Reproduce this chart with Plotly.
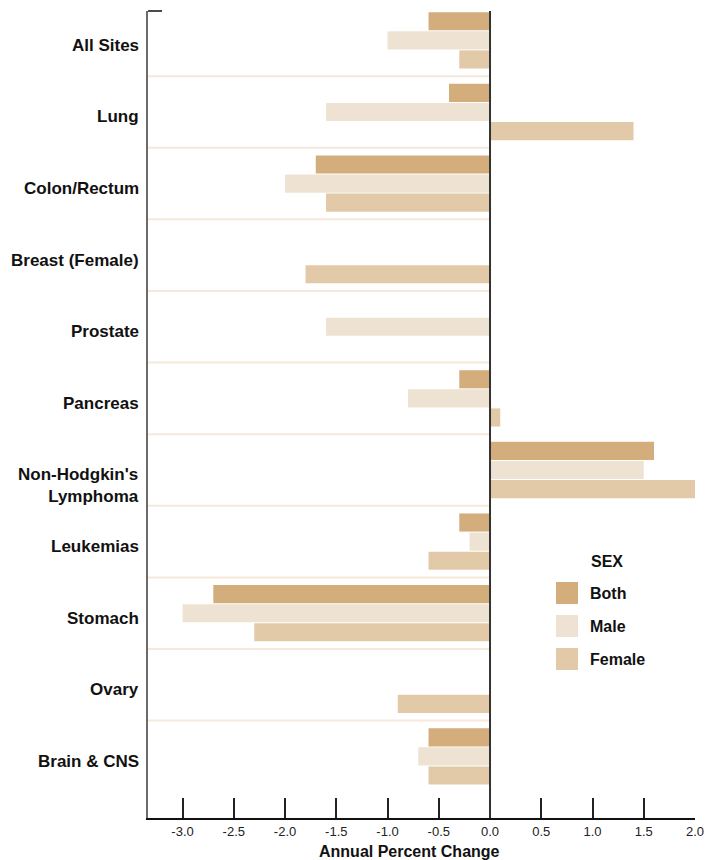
import plotly.graph_objects as go

# ---------------- data ----------------
categories = ["All Sites", "Lung", "Colon/Rectum", "Breast (Female)", "Prostate",
              "Pancreas", "Non-Hodgkin's<br>Lymphoma", "Leukemias", "Stomach",
              "Ovary", "Brain & CNS"]
both = [-0.6, -0.4, -1.7, None, None, -0.3, 1.6, -0.3, -2.7, None, -0.6]
male = [-1.0, -1.6, -2.0, None, -1.6, -0.8, 1.5, -0.2, -3.0, None, -0.7]
female = [-0.3, 1.4, -1.6, -1.8, None, 0.1, 2.0, -0.6, -2.3, -0.9, -0.6]
series_names = ["Both", "Male", "Female"]
series_values = [both, male, female]
series_colors = ["#d3ae7c", "#eee3d3", "#e2caa8"]
x_tick_vals = [-3.0, -2.5, -2.0, -1.5, -1.0, -0.5, 0.0, 0.5, 1.0, 1.5, 2.0]
x_tick_text = ["-3.0", "-2.5", "-2.0", "-1.5", "-1.0", "-0.5", "0.0", "0.5", "1.0", "1.5", "2.0"]
legend_title = "SEX"
x_title = "Annual Percent Change"

# ---------------- layout geometry ----------------
W, H = 706, 860
ML, MR, MT, MB = 148, 11, 11, 42
PW, PH = W - ML - MR, H - MT - MB
X_RANGE = [-3.337, 2.0]
Y_RANGE = [10.86, -0.41]
FONT = "Arial, Liberation Sans, Helvetica, sans-serif"
LABEL_SIZE = 17


def px_x(p):
    return (p - ML) / PW


def px_y(p):
    return (H - MB - p) / PH


fig = go.Figure()
for name, vals, col in zip(series_names, series_values, series_colors):
    fig.add_trace(go.Bar(
        y=categories, x=vals, name=name, orientation="h",
        marker=dict(color=col, line=dict(width=0)),
        showlegend=False,
    ))

shapes = []
# separators between groups (left of zero)
for i in range(len(categories) - 1):
    shapes.append(dict(type="line", xref="x", yref="y", x0=X_RANGE[0], x1=0,
                       y0=i + 0.5, y1=i + 0.5,
                       line=dict(color="#f5e9dc", width=2), layer="below"))
# zero line
shapes.append(dict(type="line", xref="x", yref="paper", x0=0, x1=0, y0=0, y1=1,
                   line=dict(color="#333333", width=2), layer="above"))
# small top-left tick
shapes.append(dict(type="line", xref="paper", yref="paper", x0=0, x1=px_x(162),
                   y0=1, y1=1, line=dict(color="#111111", width=1.5)))

annotations = []
# category labels
for i, c in enumerate(categories):
    shift = -16 if "<br>" in c else -5
    annotations.append(dict(
        x=0, xref="paper", xanchor="right", xshift=-7,
        y=c, yref="y", yanchor="middle", yshift=shift,
        text="<b>" + c + "</b>", showarrow=False, align="right",
        font=dict(family=FONT, size=LABEL_SIZE, color="#111111"),
    ))

# x-axis title
annotations.append(dict(
    x=px_x(409), xref="paper", xanchor="center",
    y=px_y(851), yref="paper", yanchor="middle",
    text="<b>" + x_title + "</b>", showarrow=False,
    font=dict(family=FONT, size=16, color="#111111"),
))

# manual legend
annotations.append(dict(
    x=px_x(589), xref="paper", xanchor="left",
    y=px_y(561), yref="paper", yanchor="middle",
    text="<b>" + legend_title + "</b>", showarrow=False,
    font=dict(family=FONT, size=16, color="#111111"),
))
leg_rows = [593, 626, 659]
for name, col, cy in zip(series_names, series_colors, leg_rows):
    shapes.append(dict(type="rect", xref="paper", yref="paper",
                       x0=px_x(556), x1=px_x(578), y0=px_y(cy + 11), y1=px_y(cy - 11),
                       fillcolor=col, line=dict(width=0)))
    annotations.append(dict(
        x=px_x(588), xref="paper", xanchor="left",
        y=px_y(cy), yref="paper", yanchor="middle",
        text="<b>" + name + "</b>", showarrow=False,
        font=dict(family=FONT, size=16, color="#111111"),
    ))

fig.update_layout(
    width=W, height=H, autosize=False,
    margin=dict(l=ML, r=MR, t=MT, b=MB, pad=0, autoexpand=False),
    paper_bgcolor="white", plot_bgcolor="white",
    barmode="group", bargap=0.2, bargroupgap=0.05,
    shapes=shapes, annotations=annotations,
    font=dict(family=FONT, color="#222222"),
    xaxis=dict(
        range=X_RANGE, tickvals=x_tick_vals, ticktext=x_tick_text,
        showgrid=False, zeroline=False, automargin=False,
        showline=True, linecolor="#111111", linewidth=2,
        ticks="inside", ticklen=20, tickwidth=1.5, tickcolor="#222222",
        tickfont=dict(family=FONT, size=13, color="#222222"),
        fixedrange=True,
    ),
    yaxis=dict(
        type="category", range=Y_RANGE, automargin=False,
        showticklabels=False, ticks="", showgrid=False, zeroline=False,
        showline=True, linecolor="#6b6b6b", linewidth=2,
        fixedrange=True,
    ),
)

fig.write_html(
    "out.html",
    config={"displayModeBar": False},
    post_script="document.body.style.margin='0';document.body.style.overflow='hidden';",
)
